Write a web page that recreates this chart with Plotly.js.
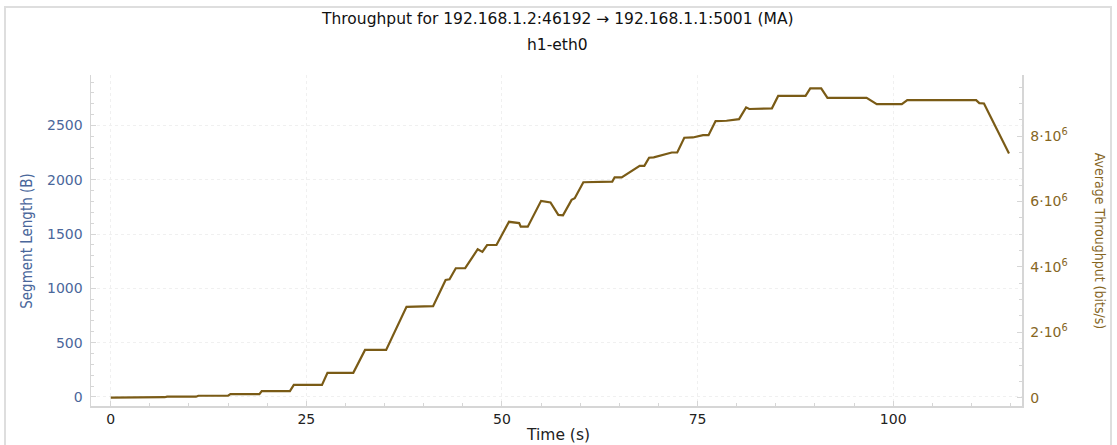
<!DOCTYPE html>
<html>
<head>
<meta charset="utf-8">
<script src="https://cdn.plot.ly/plotly-3.0.1.min.js"></script>
<style>
  html, body { margin: 0; padding: 0; background: #ffffff; }
  #chart { width: 1117px; height: 445px; position: absolute; left: 0; top: 0; }
  #frame { position: absolute; left: 4px; top: 6px; width: 1108px; height: 450px;
           border: 2px solid #dedede; box-sizing: border-box; pointer-events: none; }
</style>
</head>
<body>
<div id="chart"></div>
<div id="frame"></div>
<script>
// Time (s)
const timeSec = [0, 2.8, 3.1, 6.9, 7.2, 10.9, 11.2, 15.0, 15.3, 19.0, 19.3, 22.9, 23.4,
  27.0, 27.7, 31.0, 32.5, 35.2, 37.8, 41.2, 42.8, 43.3, 44.1, 45.3, 46.9, 47.5, 48.1,
  49.3, 50.9, 52.2, 52.4, 53.3, 55.0, 56.2, 57.2, 57.8, 58.9, 59.3, 60.4, 64.1, 64.4,
  65.3, 67.6, 68.2, 68.8, 69.4, 71.7, 72.4, 73.3, 74.4, 75.7, 76.4, 77.3, 78.7, 80.3,
  81.2, 81.6, 84.5, 85.3, 88.8, 89.4, 90.8, 91.6, 96.6, 97.9, 101.1, 101.8, 110.6,
  111.0, 111.6, 114.8];
// Average throughput (bits/s), moving average
const avgThroughput = [0, 0, 0.015e6, 0.015e6, 0.03e6, 0.03e6, 0.06e6, 0.06e6, 0.11e6,
  0.11e6, 0.2e6, 0.2e6, 0.39e6, 0.39e6, 0.76e6, 0.76e6, 1.46e6, 1.46e6, 2.78e6, 2.80e6,
  3.60e6, 3.62e6, 3.96e6, 3.96e6, 4.54e6, 4.46e6, 4.67e6, 4.67e6, 5.38e6, 5.34e6,
  5.23e6, 5.23e6, 6.02e6, 5.97e6, 5.59e6, 5.58e6, 6.05e6, 6.10e6, 6.59e6, 6.61e6,
  6.74e6, 6.74e6, 7.09e6, 7.09e6, 7.34e6, 7.35e6, 7.50e6, 7.50e6, 7.95e6, 7.96e6,
  8.03e6, 8.03e6, 8.46e6, 8.47e6, 8.52e6, 8.88e6, 8.83e6, 8.85e6, 9.23e6, 9.23e6,
  9.46e6, 9.46e6, 9.17e6, 9.17e6, 8.98e6, 8.98e6, 9.10e6, 9.10e6, 9.01e6, 9.00e6,
  7.47e6];
// Segment length series (not drawn in the reference graph)
const segTime = [];
const segLength = [];

const xTickVals = [0, 25, 50, 75, 100];
const leftTickVals = [0, 500, 1000, 1500, 2000, 2500];
const rightTickVals = [0, 2e6, 4e6, 6e6, 8e6];
const rightTickText = ['0', '2·10<sup>6</sup>', '4·10<sup>6</sup>', '6·10<sup>6</sup>', '8·10<sup>6</sup>'];

const titleText = 'Throughput for 192.168.1.2:46192 → 192.168.1.1:5001 (MA)';
const subtitleText = 'h1-eth0';

const FONT = 'DejaVu Sans, Verdana, sans-serif';
const COND = 'DejaVu Sans Condensed, Liberation Sans Narrow, DejaVu Sans, sans-serif';
const BLUE = '#4a679b';
const BROWN = '#86661f';
const LINE = '#7a5b16';
const AXC = '#d6d6d6';
const GRID = '#f0f0f0';

const traces = [
  { x: segTime, y: segLength, type: 'scatter', mode: 'lines', yaxis: 'y',
    line: { color: BLUE, width: 1 }, hoverinfo: 'skip', showlegend: false },
  { x: timeSec, y: avgThroughput, type: 'scatter', mode: 'lines', yaxis: 'y2',
    line: { color: LINE, width: 2.2 }, showlegend: false }
];

const layout = {
  width: 1117, height: 445,
  margin: { l: 91, r: 95, t: 75, b: 39, pad: 0 },
  paper_bgcolor: '#ffffff', plot_bgcolor: '#ffffff',
  font: { family: FONT, size: 14, color: '#222' },
  showlegend: false,
  xaxis: {
    range: [-2.52, 116.46], tickvals: xTickVals, ticks: 'inside', ticklen: 5,
    tickcolor: AXC, showline: true, linecolor: AXC, linewidth: 1.5,
    showgrid: true, gridcolor: GRID, griddash: 'dot', zeroline: false,
    tickfont: { family: FONT, size: 14, color: '#222' },
    minor: { dtick: 5, ticks: 'inside', ticklen: 3, tickcolor: AXC, showgrid: false },
    mirror: false
  },
  yaxis: {
    range: [-83, 2965], tickvals: leftTickVals, ticks: 'inside', ticklen: 5,
    tickcolor: AXC, showline: true, linecolor: AXC, linewidth: 1.5,
    showgrid: true, gridcolor: GRID, griddash: 'dot', zeroline: false,
    tickfont: { family: FONT, size: 14, color: BLUE },
    minor: { dtick: 100, ticks: 'inside', ticklen: 3, tickcolor: AXC, showgrid: false },
    ticklabelstandoff: 4
  },
  yaxis2: {
    range: [-0.254e6, 9.87e6], overlaying: 'y', side: 'right',
    tickvals: rightTickVals, ticktext: rightTickText, ticks: 'inside', ticklen: 5,
    tickcolor: AXC, showline: true, linecolor: AXC, linewidth: 1.5,
    showgrid: false, zeroline: false,
    tickfont: { family: FONT, size: 14, color: BROWN },
    minor: { dtick: 0.5e6, ticks: 'inside', ticklen: 3, tickcolor: AXC, showgrid: false },
    ticklabelstandoff: 4
  },
  annotations: [
    { text: titleText, xref: 'paper', yref: 'paper', x: 0.5016, y: 1.169,
      xanchor: 'center', yanchor: 'middle', showarrow: false,
      font: { family: FONT, size: 15.5, color: '#111' } },
    { text: subtitleText, xref: 'paper', yref: 'paper', x: 0.5016, y: 1.0906,
      xanchor: 'center', yanchor: 'middle', showarrow: false,
      font: { family: FONT, size: 15.5, color: '#111' } },
    { text: 'Time (s)', xref: 'paper', yref: 'paper', x: 0.5016, y: -0.0876,
      xanchor: 'center', yanchor: 'middle', showarrow: false,
      font: { family: FONT, size: 15.5, color: '#222' } },
    { text: 'Segment Length (B)', xref: 'paper', yref: 'paper', x: -0.0688, y: 0.499,
      xanchor: 'center', yanchor: 'middle', showarrow: false, textangle: -90,
      font: { family: COND, size: 15, color: BLUE } },
    { text: 'Average Throughput (bits/s)', xref: 'paper', yref: 'paper', x: 1.0838, y: 0.499,
      xanchor: 'center', yanchor: 'middle', showarrow: false, textangle: 90,
      font: { family: COND, size: 14, color: BROWN } }
  ]
};

Plotly.newPlot('chart', traces, layout, { displayModeBar: false, staticPlot: true });
</script>
</body>
</html>
